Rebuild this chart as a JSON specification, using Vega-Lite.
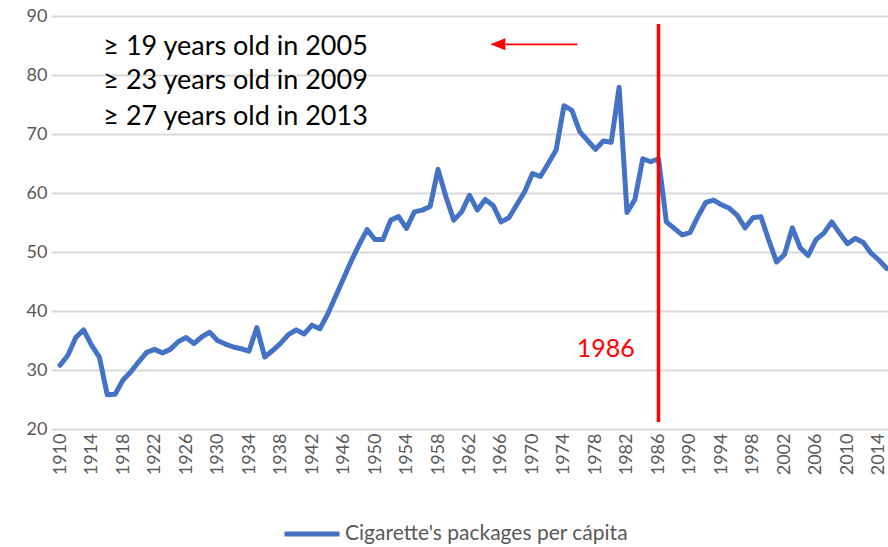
{
  "$schema": "https://vega.github.io/schema/vega-lite/v6.json",
  "width": 837,
  "height": 413,
  "autosize": {"type": "none"},
  "padding": {"left": 51, "top": 16, "right": 0, "bottom": 118},
  "background": "white",
  "config": {
    "view": {"stroke": null},
    "font": "Lato",
    "axis": {"labelFont": "Lato", "labelColor": "#595959", "labelFontSize": 18, "title": null, "ticks": false, "domain": false},
    "axisX": {"labelOverlap": false, "labelBound": false, "labelFlush": false},
    "legend": {"labelFont": "Lato", "labelColor": "#595959"}
  },
  "datasets": {
    "main": [
      {"year":1910,"value":30.8},{"year":1911,"value":32.5},{"year":1912,"value":35.5},{"year":1913,"value":36.8},{"year":1914,"value":34.2},
      {"year":1915,"value":32.2},{"year":1916,"value":25.8},{"year":1917,"value":25.9},{"year":1918,"value":28.3},{"year":1919,"value":29.7},
      {"year":1920,"value":31.4},{"year":1921,"value":33.0},{"year":1922,"value":33.5},{"year":1923,"value":32.9},{"year":1924,"value":33.5},
      {"year":1925,"value":34.8},{"year":1926,"value":35.5},{"year":1927,"value":34.5},{"year":1928,"value":35.6},{"year":1929,"value":36.4},
      {"year":1930,"value":35.0},{"year":1931,"value":34.4},{"year":1932,"value":33.9},{"year":1933,"value":33.6},{"year":1934,"value":33.2},
      {"year":1935,"value":37.2},{"year":1936,"value":32.2},{"year":1937,"value":33.3},{"year":1938,"value":34.5},{"year":1939,"value":36.0},
      {"year":1940,"value":36.8},{"year":1941,"value":36.1},{"year":1942,"value":37.6},{"year":1943,"value":37.0},{"year":1944,"value":39.5},
      {"year":1945,"value":42.5},{"year":1946,"value":45.5},{"year":1947,"value":48.5},{"year":1948,"value":51.3},{"year":1949,"value":53.8},
      {"year":1950,"value":52.1},{"year":1951,"value":52.1},{"year":1952,"value":55.4},{"year":1953,"value":56.0},{"year":1954,"value":54.0},
      {"year":1955,"value":56.8},{"year":1956,"value":57.1},{"year":1957,"value":57.7},{"year":1958,"value":64.0},{"year":1959,"value":59.4},
      {"year":1960,"value":55.4},{"year":1961,"value":56.8},{"year":1962,"value":59.6},{"year":1963,"value":57.1},{"year":1964,"value":58.9},
      {"year":1965,"value":57.9},{"year":1966,"value":55.1},{"year":1967,"value":55.8},{"year":1968,"value":58.0},{"year":1969,"value":60.2},
      {"year":1970,"value":63.3},{"year":1971,"value":62.8},{"year":1972,"value":65.0},{"year":1973,"value":67.3},{"year":1974,"value":74.8},
      {"year":1975,"value":74.0},{"year":1976,"value":70.4},{"year":1977,"value":68.9},{"year":1978,"value":67.4},{"year":1979,"value":68.8},
      {"year":1980,"value":68.6},{"year":1981,"value":77.9},{"year":1982,"value":56.7},{"year":1983,"value":58.9},{"year":1984,"value":65.8},
      {"year":1985,"value":65.3},{"year":1986,"value":65.8},{"year":1987,"value":55.1},{"year":1988,"value":54.0},{"year":1989,"value":52.9},
      {"year":1990,"value":53.3},{"year":1991,"value":56.0},{"year":1992,"value":58.4},{"year":1993,"value":58.8},{"year":1994,"value":58.0},
      {"year":1995,"value":57.4},{"year":1996,"value":56.2},{"year":1997,"value":54.1},{"year":1998,"value":55.8},{"year":1999,"value":56.0},
      {"year":2000,"value":52.0},{"year":2001,"value":48.3},{"year":2002,"value":49.6},{"year":2003,"value":54.1},{"year":2004,"value":50.7},
      {"year":2005,"value":49.4},{"year":2006,"value":52.1},{"year":2007,"value":53.2},{"year":2008,"value":55.1},{"year":2009,"value":53.2},
      {"year":2010,"value":51.4},{"year":2011,"value":52.3},{"year":2012,"value":51.6},{"year":2013,"value":49.8},{"year":2014,"value":48.6},
      {"year":2015,"value":47.2}
    ],
    "notes": [
      {"label": "≥ 19 years old in 2005", "year": 1915.5, "value": 83.4},
      {"label": "≥ 23 years old in 2009", "year": 1915.5, "value": 77.55},
      {"label": "≥ 27 years old in 2013", "year": 1915.5, "value": 71.55}
    ]
  },
  "layer": [
    {
      "data": {"name": "main"},
      "mark": {"type": "line", "strokeWidth": 5, "strokeJoin": "round", "strokeCap": "round"},
      "encoding": {
        "x": {"field": "year", "type": "quantitative",
              "scale": {"domain": [1908.857, 2015.143], "nice": false, "zero": false},
              "axis": {"values": [1910,1914,1918,1922,1926,1930,1934,1938,1942,1946,1950,1954,1958,1962,1966,1970,1974,1978,1982,1986,1990,1994,1998,2002,2006,2010,2014],
                       "tickCount": 40,
                       "format": "d", "labelAngle": 270, "grid": false, "labelPadding": 4, "labelFlush": false, "labelOverlap": false, "labelFontSize": 18}},
        "y": {"field": "value", "type": "quantitative",
              "scale": {"domain": [20, 90], "nice": false, "zero": false},
              "axis": {"values": [20,30,40,50,60,70,80,90], "tickCount": 10, "grid": true, "gridColor": "#D9D9D9", "gridWidth": 2, "labelPadding": 4}},
        "color": {"datum": "Cigarette's packages per cápita", "type": "nominal",
                  "scale": {"range": ["#4472C4"]},
                  "legend": {"title": null, "orient": "none", "legendX": 231, "legendY": 488,
                             "symbolType": "stroke", "symbolSize": 3025, "symbolStrokeWidth": 5,
                             "labelFontSize": 21, "labelOffset": 3, "labelLimit": 500}}
      }
    },
    {
      "data": {"values": [{}]},
      "mark": {"type": "rule", "color": "#FF0000", "strokeWidth": 3.5},
      "encoding": {"x": {"datum": 1986, "type": "quantitative"}, "y": {"datum": 88.64, "type": "quantitative"}, "y2": {"datum": 21.2}}
    },
    {
      "data": {"values": [{}]},
      "mark": {"type": "rule", "color": "#FF0000", "strokeWidth": 1.8},
      "encoding": {"x": {"datum": 1966.6, "type": "quantitative"}, "x2": {"datum": 1975.7}, "y": {"datum": 85.2, "type": "quantitative"}}
    },
    {
      "data": {"values": [{}]},
      "mark": {"type": "point", "shape": "M -1 0 L 1 -0.8 L 1 0.8 Z", "size": 225, "filled": true, "color": "#FF0000", "opacity": 1},
      "encoding": {"x": {"datum": 1965.6, "type": "quantitative"}, "y": {"datum": 85.2, "type": "quantitative"}}
    },
    {
      "data": {"values": [{}]},
      "mark": {"type": "text", "color": "#FF0000", "font": "Lato", "fontSize": 25, "align": "right", "baseline": "alphabetic"},
      "encoding": {"x": {"datum": 1983.0, "type": "quantitative"}, "y": {"datum": 32.2, "type": "quantitative"}, "text": {"value": "1986"}}
    },
    {
      "data": {"name": "notes"},
      "mark": {"type": "text", "color": "#000000", "font": "Lato", "fontSize": 27, "align": "left", "baseline": "alphabetic"},
      "encoding": {"x": {"field": "year", "type": "quantitative"}, "y": {"field": "value", "type": "quantitative"}, "text": {"field": "label"}}
    }
  ]
}
